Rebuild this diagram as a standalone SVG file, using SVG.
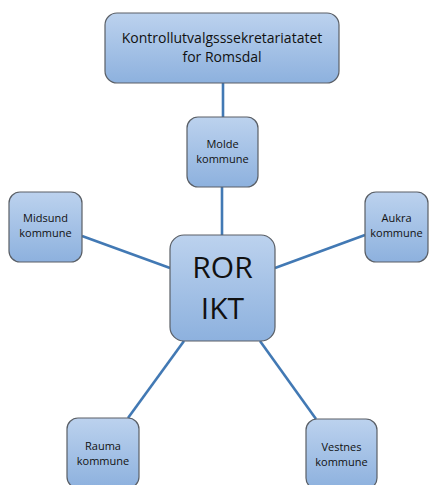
<svg xmlns="http://www.w3.org/2000/svg" width="430" height="485" viewBox="0 0 430 485">
<defs>
<linearGradient id="g" x1="0" y1="0" x2="0" y2="1">
<stop offset="0" stop-color="#bcd2ee"/>
<stop offset="1" stop-color="#8db1de"/>
</linearGradient>
<style>
.box{fill:url(#g);stroke:#5a5f66;stroke-width:1.2}
.lnk{stroke:#4279b4;stroke-width:2.6;fill:none}
text{font-family:"Open Sans","Liberation Sans",sans-serif;fill:#111;text-anchor:middle}
.s{font-size:11px}
.m{font-size:14px}
.b{font-size:30px}
</style>
</defs>
<rect width="430" height="485" fill="#fff"/>
<g id="connectors">
<line class="lnk" x1="223" y1="83" x2="223" y2="117"/>
<line class="lnk" x1="222" y1="187" x2="222" y2="235"/>
<line class="lnk" x1="82" y1="236" x2="170" y2="268"/>
<line class="lnk" x1="365" y1="235" x2="275" y2="268"/>
<line class="lnk" x1="184" y1="341" x2="128" y2="418"/>
<line class="lnk" x1="260" y1="341" x2="316" y2="419"/>
</g>
<g id="kontroll">
<rect class="box" x="105" y="13" width="234" height="70" rx="12"/>
<text class="m" x="222" y="43">Kontrollutvalgsssekretariatatet</text>
<text class="m" x="222" y="62">for Romsdal</text>
</g>
<g id="molde">
<rect class="box" x="187" y="117" width="71" height="70" rx="11"/>
<text class="s" x="222.5" y="148">Molde</text>
<text class="s" x="222.5" y="163">kommune</text>
</g>
<g id="ror">
<rect class="box" x="170" y="235" width="105" height="106" rx="14"/>
<text class="b" x="222.5" y="278">ROR</text>
<text class="b" x="222.5" y="319">IKT</text>
</g>
<g id="midsund">
<rect class="box" x="9" y="192" width="73" height="70" rx="11"/>
<text class="s" x="45.5" y="222">Midsund</text>
<text class="s" x="45.5" y="237">kommune</text>
</g>
<g id="aukra">
<rect class="box" x="365" y="192" width="63" height="70" rx="11"/>
<text class="s" x="396.5" y="222">Aukra</text>
<text class="s" x="396.5" y="237">kommune</text>
</g>
<g id="rauma">
<rect class="box" x="67" y="418" width="72" height="70" rx="11"/>
<text class="s" x="103" y="450">Rauma</text>
<text class="s" x="103" y="465">kommune</text>
</g>
<g id="vestnes">
<rect class="box" x="306" y="419" width="71" height="70" rx="11"/>
<text class="s" x="341.5" y="451">Vestnes</text>
<text class="s" x="341.5" y="466">kommune</text>
</g>
</svg>
